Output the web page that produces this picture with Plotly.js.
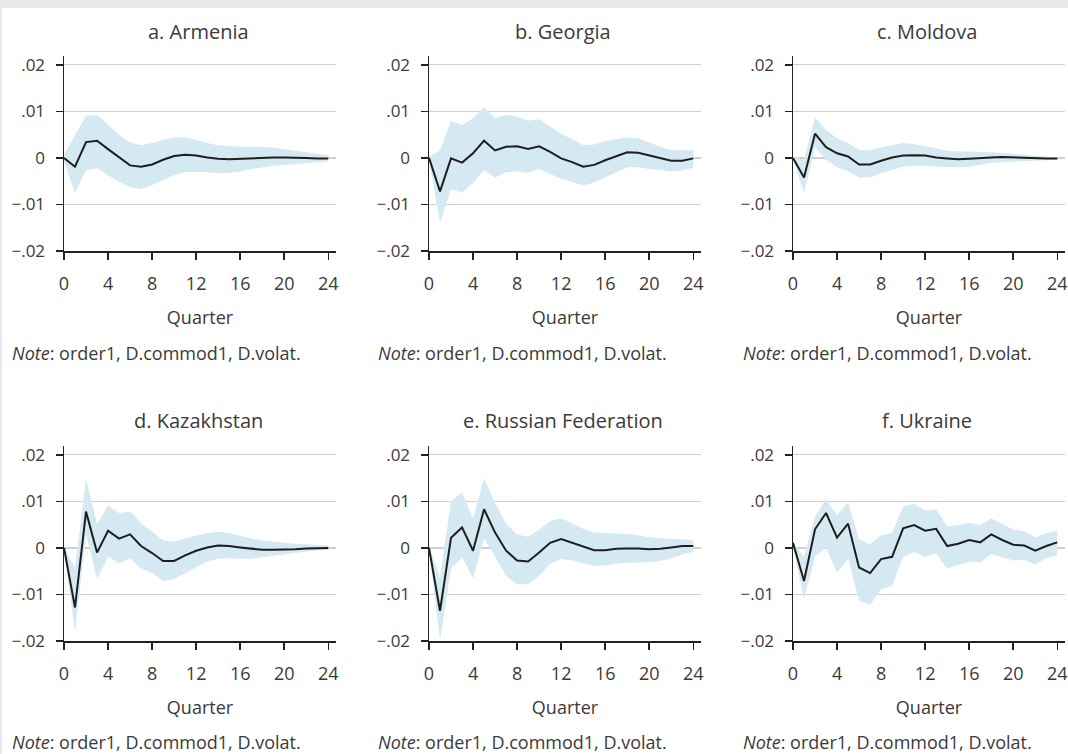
<!DOCTYPE html>
<html>
<head>
<meta charset="utf-8">
<script src="https://cdn.plot.ly/plotly-3.0.1.min.js"></script>
<style>
  html, body { margin: 0; padding: 0; background: #ffffff; }
  #chart { width: 1068px; height: 754px; }
</style>
</head>
<body>
<div id="chart"></div>
<script>
// ---------------- DATA ----------------
const quarters = [0, 1, 2, 3, 4, 5, 6, 7, 8, 9, 10, 11, 12, 13, 14, 15, 16, 17, 18, 19, 20, 21, 22, 23, 24];
const xTickVals = [0, 4, 8, 12, 16, 20, 24];
const xTickText = ["0", "4", "8", "12", "16", "20", "24"];
const yTickVals = [0.02, 0.01, 0, -0.01, -0.02];
const yTickText = [".02", ".01", "0", "\u2212.01", "\u2212.02"];
const panelTitles = ["a. Armenia", "b. Georgia", "c. Moldova", "d. Kazakhstan", "e. Russian Federation", "f. Ukraine"];
const xAxisLabel = "Quarter";
const noteText = "<i>Note</i>: order1, D.commod1, D.volat.";

const armeniaIrf   = [0, -0.0019, 0.0034, 0.0037, 0.0019, 0.0001, -0.0016, -0.0019, -0.0014, -0.0004, 0.0004, 0.0007, 0.0005, 0.0001, -0.0002, -0.0003, -0.0002, -0.0001, 0.0001, 0.0001, 0.0001, 0.0001, 0, -0.0001, -0.0001];
const armeniaUpper = [0.0008, 0.005, 0.009, 0.0092, 0.0071, 0.005, 0.0033, 0.0027, 0.0032, 0.0039, 0.0044, 0.0044, 0.0039, 0.0032, 0.0027, 0.0025, 0.0024, 0.0024, 0.0024, 0.0022, 0.0019, 0.0016, 0.0012, 0.0009, 0.0006];
const armeniaLower = [-0.0008, -0.0075, -0.0026, -0.0022, -0.0037, -0.0051, -0.0063, -0.0067, -0.0058, -0.0047, -0.0037, -0.0031, -0.003, -0.0031, -0.0033, -0.0032, -0.0029, -0.0024, -0.002, -0.0017, -0.0015, -0.0013, -0.0011, -0.0009, -0.0007];

const georgiaIrf   = [0, -0.0072, -0.0001, -0.001, 0.001, 0.0037, 0.0016, 0.0024, 0.0025, 0.0019, 0.0025, 0.0013, -0.0001, -0.0009, -0.0019, -0.0015, -0.0005, 0.0004, 0.0012, 0.0011, 0.0005, -0.0001, -0.0006, -0.0006, -0.0001];
const georgiaUpper = [0.0003, 0.0016, 0.008, 0.007, 0.0085, 0.0109, 0.0085, 0.0092, 0.0089, 0.008, 0.0083, 0.0067, 0.0052, 0.004, 0.0028, 0.0029, 0.0036, 0.004, 0.0044, 0.0042, 0.0033, 0.0024, 0.0017, 0.0016, 0.0017];
const georgiaLower = [-0.0003, -0.014, -0.0067, -0.0075, -0.0054, -0.0026, -0.0042, -0.0031, -0.0029, -0.0032, -0.0024, -0.0035, -0.0045, -0.0052, -0.0059, -0.0053, -0.0042, -0.0031, -0.002, -0.002, -0.0024, -0.0026, -0.0029, -0.0027, -0.0021];

const moldovaIrf   = [0, -0.0042, 0.0052, 0.0023, 0.001, 0.0003, -0.0014, -0.0014, -0.0006, 0.0001, 0.0005, 0.0006, 0.0005, 0.0001, -0.0001, -0.0003, -0.0002, 0, 0.0001, 0.0002, 0.0001, 0.0001, 0, -0.0001, -0.0001];
const moldovaUpper = [0.0003, -0.0004, 0.0087, 0.006, 0.0042, 0.0032, 0.0017, 0.0016, 0.0023, 0.0028, 0.0032, 0.003, 0.0026, 0.0021, 0.0016, 0.0014, 0.0014, 0.0013, 0.0013, 0.0011, 0.0009, 0.0006, 0.0004, 0.0003, 0.0001];
const moldovaLower = [-0.0003, -0.0075, 0.0023, -0.0004, -0.002, -0.0028, -0.0042, -0.0042, -0.0033, -0.0026, -0.0019, -0.0017, -0.0017, -0.0019, -0.002, -0.002, -0.0019, -0.0015, -0.0011, -0.0009, -0.0008, -0.0006, -0.0006, -0.0005, -0.0004];

const kazakhstanIrf   = [0, -0.0128, 0.0078, -0.001, 0.0037, 0.002, 0.0029, 0.0004, -0.0011, -0.0028, -0.0028, -0.0016, -0.0006, 0.0001, 0.0005, 0.0004, 0.0001, -0.0001, -0.0004, -0.0004, -0.0004, -0.0003, -0.0001, -0.0001, 0];
const kazakhstanUpper = [0.0003, -0.0044, 0.0148, 0.0052, 0.0091, 0.0075, 0.0078, 0.0053, 0.0035, 0.0016, 0.0013, 0.0021, 0.0026, 0.0032, 0.0035, 0.0032, 0.0026, 0.002, 0.0016, 0.0013, 0.0011, 0.0009, 0.0008, 0.0006, 0.0005];
const kazakhstanLower = [-0.0003, -0.018, 0.003, -0.0067, -0.0019, -0.0033, -0.0022, -0.0044, -0.0054, -0.0071, -0.0067, -0.0054, -0.0042, -0.0029, -0.0023, -0.0022, -0.0023, -0.0023, -0.002, -0.0017, -0.0013, -0.001, -0.0007, -0.0005, -0.0004];

const russiaIrf   = [0, -0.0135, 0.0022, 0.0044, -0.0006, 0.0083, 0.0033, -0.0006, -0.0027, -0.0029, -0.001, 0.0011, 0.0019, 0.0011, 0.0002, -0.0005, -0.0005, -0.0002, -0.0001, -0.0001, -0.0003, -0.0002, 0.0001, 0.0004, 0.0004];
const russiaUpper = [0.0003, -0.0062, 0.01, 0.012, 0.0062, 0.015, 0.0096, 0.0052, 0.0029, 0.0024, 0.0039, 0.0058, 0.0064, 0.0053, 0.0041, 0.0033, 0.0032, 0.0032, 0.003, 0.0027, 0.0023, 0.0021, 0.002, 0.0019, 0.0017];
const russiaLower = [-0.0003, -0.0198, -0.0044, -0.002, -0.0065, 0.0021, -0.0019, -0.006, -0.0078, -0.0078, -0.006, -0.0034, -0.0024, -0.0027, -0.0033, -0.0039, -0.0038, -0.0034, -0.0032, -0.0032, -0.0031, -0.0028, -0.0022, -0.0014, -0.0008];

const ukraineIrf   = [0.0011, -0.0071, 0.004, 0.0075, 0.0022, 0.0052, -0.0042, -0.0054, -0.0024, -0.0019, 0.0042, 0.0049, 0.0037, 0.0041, 0.0004, 0.0009, 0.0017, 0.0012, 0.0029, 0.0017, 0.0007, 0.0005, -0.0006, 0.0004, 0.0012];
const ukraineUpper = [0.0012, -0.0019, 0.0067, 0.0105, 0.007, 0.0098, 0.0019, 0.0008, 0.0027, 0.0032, 0.0089, 0.0095, 0.008, 0.0083, 0.0046, 0.0049, 0.0054, 0.0049, 0.0063, 0.0052, 0.0039, 0.0036, 0.0023, 0.0032, 0.0036];
const ukraineLower = [0.0003, -0.011, -0.0019, 0.0001, -0.0054, -0.0022, -0.0113, -0.0122, -0.0089, -0.0082, -0.0019, -0.0009, -0.0019, -0.0012, -0.0044, -0.0037, -0.0029, -0.0032, -0.0013, -0.002, -0.0027, -0.0026, -0.0035, -0.0022, -0.0015];

// ---------------- BUILD ----------------
const irfs   = [armeniaIrf, georgiaIrf, moldovaIrf, kazakhstanIrf, russiaIrf, ukraineIrf];
const uppers = [armeniaUpper, georgiaUpper, moldovaUpper, kazakhstanUpper, russiaUpper, ukraineUpper];
const lowers = [armeniaLower, georgiaLower, moldovaLower, kazakhstanLower, russiaLower, ukraineLower];

const W = 1068, H = 754;
const FONT = "'Open Sans', 'Noto Sans', sans-serif";
const TXT = "#3a3a3a";
const colLeft = [64, 429, 793];      // pixel x of y-axis
const plotW = 272;                    // pixel width of plot area
const rowTop = [56, 446];             // pixel y of top of y-axis
const rowBottom = [251, 641];         // pixel y of x-axis
const noteX = [10, 376, 741];
const titleY = [31, 421];
const noteY = [353, 742];

const traces = [];
const layout = {
  width: W, height: H,
  margin: {l: 0, r: 0, t: 0, b: 0},
  paper_bgcolor: "#ffffff",
  plot_bgcolor: "rgba(0,0,0,0)",
  showlegend: false,
  font: {family: FONT, color: TXT, size: 17},
  annotations: [],
  shapes: [
    {type: "rect", xref: "paper", yref: "paper", x0: 0, x1: 1, y0: 1 - 8 / H, y1: 1, fillcolor: "#e8e9eb", line: {width: 0}, layer: "below"},
    {type: "rect", xref: "paper", yref: "paper", x0: 0, x1: 2 / W, y0: 0, y1: 1, fillcolor: "#e8e9eb", line: {width: 0}, layer: "below"}
  ]
};

for (let i = 0; i < 6; i++) {
  const r = Math.floor(i / 3), c = i % 3;
  const n = i + 1;
  const xa = n === 1 ? "x" : "x" + n;
  const ya = n === 1 ? "y" : "y" + n;
  const xKey = n === 1 ? "xaxis" : "xaxis" + n;
  const yKey = n === 1 ? "yaxis" : "yaxis" + n;

  traces.push({x: quarters, y: lowers[i], xaxis: xa, yaxis: ya, type: "scatter", mode: "lines",
               line: {width: 0, color: "rgba(0,0,0,0)"}, hoverinfo: "skip"});
  traces.push({x: quarters, y: uppers[i], xaxis: xa, yaxis: ya, type: "scatter", mode: "lines",
               line: {width: 0, color: "rgba(0,0,0,0)"}, fill: "tonexty", fillcolor: "#d5e9f2", hoverinfo: "skip"});
  traces.push({x: quarters, y: irfs[i], xaxis: xa, yaxis: ya, type: "scatter", mode: "lines",
               line: {width: 2, color: "#1e1e1e"}});

  const x0 = colLeft[c] / W, x1 = (colLeft[c] + plotW) / W;
  const y0 = 1 - rowBottom[r] / H, y1 = 1 - rowTop[r] / H;

  layout[xKey] = {
    domain: [x0, Math.min(x1, 1)], anchor: ya, range: [0, 24.7],
    showline: true, linecolor: "#222222", linewidth: 1.5,
    ticks: "outside", ticklen: 7, tickwidth: 1.5, tickcolor: "#222222",
    tickvals: xTickVals, ticktext: xTickText, tickfont: {family: FONT, size: 18, color: TXT},
    ticklabelstandoff: 9,
    showgrid: false, zeroline: false, fixedrange: true,
    title: {text: xAxisLabel, font: {family: FONT, size: 18, color: TXT}, standoff: 17}
  };
  layout[yKey] = {
    domain: [y0, y1], anchor: xa, range: [-0.02, 0.0219],
    showline: true, linecolor: "#222222", linewidth: 1.5,
    ticks: "outside", ticklen: 7, tickwidth: 1.5, tickcolor: "#222222",
    tickvals: yTickVals, ticktext: yTickText, tickfont: {family: FONT, size: 17, color: TXT},
    ticklabelstandoff: 7,
    showgrid: true, gridcolor: "#cfcfcf", gridwidth: 1.3, zeroline: false, fixedrange: true
  };

  layout.annotations.push({
    text: panelTitles[i], xref: "paper", yref: "paper",
    x: (colLeft[c] + plotW / 2 - 2) / W, y: 1 - titleY[r] / H,
    xanchor: "center", yanchor: "middle", showarrow: false,
    font: {family: FONT, size: 20, color: TXT}
  });
  layout.annotations.push({
    text: noteText, xref: "paper", yref: "paper",
    x: noteX[c] / W, y: 1 - noteY[r] / H,
    xanchor: "left", yanchor: "middle", showarrow: false,
    font: {family: FONT, size: 18, color: TXT}
  });
}

Plotly.newPlot("chart", traces, layout, {displayModeBar: false, staticPlot: true});
</script>
</body>
</html>
